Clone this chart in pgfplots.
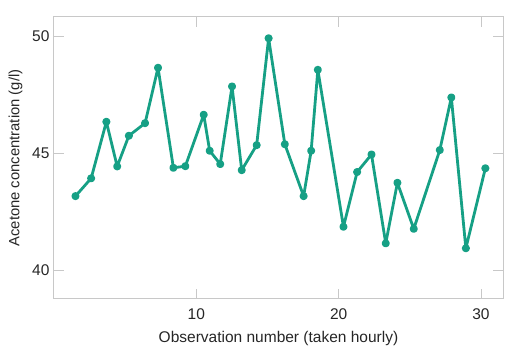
\documentclass[border=0pt]{standalone}
\usepackage{pgfplots}
\pgfplotsset{compat=1.18}
\usepackage{fontspec}
\setmainfont{Liberation Sans}
\definecolor{teal1}{RGB}{22,160,133}
\definecolor{axgray}{RGB}{200,200,200}
\begin{document}
\begin{tikzpicture}
\begin{axis}[
  scale only axis,
  width=449pt, height=282pt,
  xmin=0, xmax=31.55, ymin=38.76, ymax=50.82,
  xtick={10,20,30}, ytick={40,45,50},
  tick align=inside,
  major tick length=10pt,
  axis line style={axgray, line width=1pt},
  every tick/.style={axgray, line width=0.8pt},
  tick label style={font=\fontsize{15.5}{17}\selectfont, text=black!85},
  /pgf/number format/assume math mode=true,
  xlabel={Observation number (taken hourly)},
  ylabel={Acetone concentration (g/l)},
  xlabel style={font=\fontsize{15.5}{17}\selectfont, text=black!85, yshift=-5pt},
  ylabel style={font=\fontsize{14.8}{17}\selectfont, text=black!85, yshift=3pt},
  xticklabel style={yshift=-6pt},
  yticklabel style={xshift=-1pt},
]
\addplot[teal1, line width=2.8pt, line join=round, mark=*, mark size=2.6pt, mark options={teal1}] coordinates {
(1.51,43.16) (2.61,43.92) (3.68,46.34) (4.44,44.43) (5.26,45.74)
(6.40,46.28) (7.31,48.65) (8.39,44.37) (9.23,44.44) (10.52,46.64)
(10.94,45.10) (11.68,44.53) (12.51,47.85) (13.19,44.27) (14.24,45.34)
(15.08,49.91) (16.22,45.38) (17.54,43.16) (18.07,45.10) (18.54,48.56)
(20.34,41.85) (21.30,44.19) (22.31,44.94) (23.31,41.14) (24.13,43.73)
(25.28,41.76) (27.11,45.13) (27.92,47.38) (28.94,40.93) (30.31,44.35)
};
\end{axis}
\pgfresetboundingbox
\path (current axis.south west) ++(-54pt,-54pt) coordinate (bl);
\path (current axis.north east) ++(14pt,17pt) coordinate (tr);
\useasboundingbox (bl) rectangle (tr);
\end{tikzpicture}
\end{document}
